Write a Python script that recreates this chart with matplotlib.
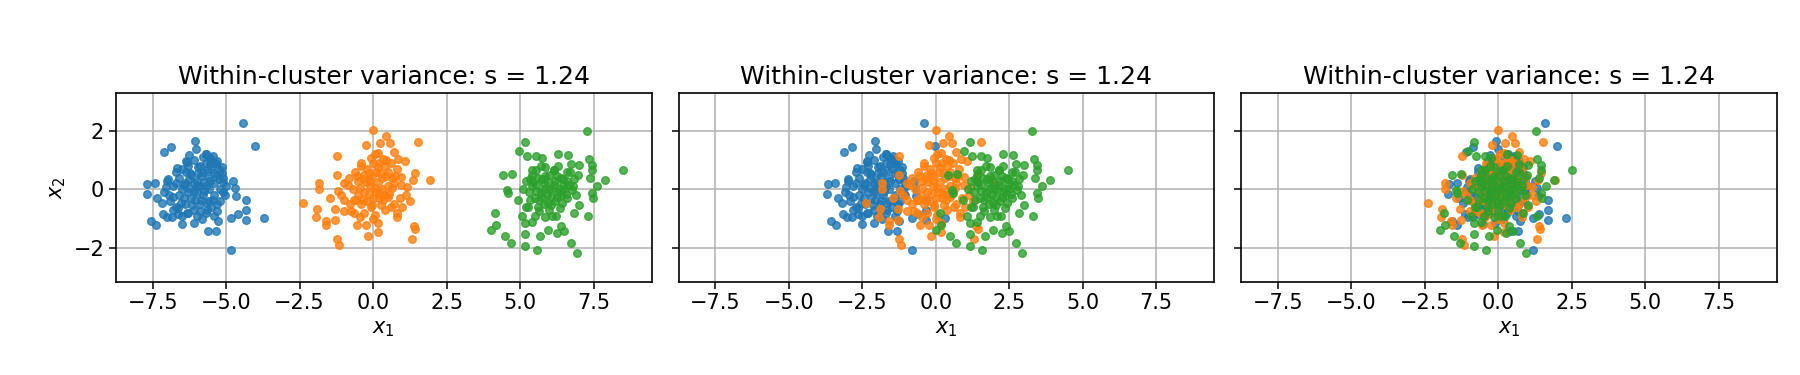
import matplotlib
matplotlib.use("Agg")
import matplotlib.pyplot as plt
import numpy as np

# point positions relative to each cluster's centre (same noise in every panel)
blue_dx = [1.59, 1.99, -0.07, -1.11, -0.86, -0.02, 0.32, -0.28, -0.68, -1.68,
           -1.41, -1.70, -0.97, -1.05, 1.25, 1.31, 1.34, 1.68, 1.68, 1.39,
           1.18, 1.68, 2.30, 0.68, 0.74, 0.39, 0.67, 1.18, -1.56, -1.39,
           -1.34, -1.19, -1.14, -1.02, -0.51, -0.11, 0.17, 0.91, 0.97, 0.80,
           0.63, 0.45, -0.34, -0.23, -0.80, -0.63, -0.34, 0.34,
           -0.6, -0.4, -0.2, 0.0, 0.2, 0.4, 0.6, 0.8, 0.6, 0.4,
           0.2, 0.0, -0.2, -0.4, -0.6, -0.8, -0.5, -0.3, 0.1, 0.3,
           0.5, 0.3, 0.1, -0.1, 0.2, 0.5, 0.7, 0.9, 1.0, 0.7,
           0.5, 0.1, -0.1, -0.3, -0.7, -0.9, -0.8, -0.5, 0.0, 0.3,
           0.6, -0.3, -0.5, -0.7, -1.0, -1.1, 0.4, -0.1, 0.15, -0.45,
           0.65, 0.85, -0.25, 0.05, 0.35,
           -0.7, -0.55, -0.35, -0.15, 0.05, 0.25, 0.45, 0.55, 0.75, 0.9,
           0.35, -0.05, -0.25, -0.45, 0.15, 0.3, 0.55, 0.7, 0.1, -0.65,
           -0.95, 0.8, 0.6, 0.25, -0.35, 0.0, 0.45, -0.1, 0.85, -0.85]
blue_dy = [2.28, 1.48, 1.65, 1.26, 1.43, 1.36, 1.20, 1.17, 0.72, 0.17,
           0.20, -0.17, 0.34, 0.09, 0.28, 0.03, -0.23, -0.36, -0.70, -0.84,
           -0.99, -1.05, -0.98, -0.73, -1.09, -1.43, -1.43, -2.08, -1.08, -1.22,
           -0.31, -0.48, -0.85, -0.93, -1.19, -1.14, -1.02, 0.26, -0.19, 0.66,
           0.91, 1.06, 0.94, 0.55, -0.25, -0.65, -0.82, -0.70,
           0.4, 0.2, 0.5, 0.3, 0.6, 0.4, 0.2, 0.0, -0.2, -0.4,
           -0.2, -0.1, -0.3, -0.5, -0.2, 0.1, 0.0, -0.1, 0.1, 0.1,
           0.7, 0.9, 0.8, 1.0, 1.1, 1.0, 0.5, 0.4, 0.1, -0.5,
           -0.6, -0.5, -0.7, -0.8, -0.6, -0.4, -0.7, -0.9, -0.9, -0.8,
           -0.9, 0.8, 0.7, 0.6, 0.3, -0.1, 0.0, 0.2, -0.35, -0.3,
           0.85, 0.75, 0.35, 0.55, 0.65,
           0.2, -0.45, 0.6, -0.55, 0.75, 0.25, 0.85, -0.35, 0.35, -0.1,
           -0.45, -0.35, 0.05, 0.15, 0.45, 1.2, 1.15, 0.95, -0.75, -0.85,
           -0.2, -0.4, 0.55, -0.05, 0.95, 0.1, 0.3, -0.05, 0.55, -0.95]

orange_dx = [0.0, 0.45, 1.53, -0.23, 0.24, 0.56, -1.24, 0.70, 0.86, 1.08,
             0.18, -0.07, -0.41, 1.44, 1.36, 1.92, -1.24, -1.83, -1.83, -2.38,
             -1.45, -1.91, -1.94, -1.60, -1.59, -1.28, -1.24, -1.17, -1.30, -0.98,
             -0.55, -0.24, -0.16, 0.18, 0.18, 0.82, 0.82, 1.38, 1.43, 1.31,
             1.27, 1.13, 1.16, 0.95, -1.20, -0.98, -0.81, -0.98, -0.64, -0.58,
             0.50, 0.61, 0.27, -0.07, 0.05,
             -0.5, -0.3, -0.1, 0.1, 0.3, 0.5, 0.7, 0.5, 0.3, 0.1,
             -0.1, -0.3, -0.5, -0.7, -0.6, -0.4, 0.2, 0.4, 0.6, 0.8,
             0.2, 0.4, 0.0, -0.2, -0.4, -0.8, -0.3, 0.0, -0.2, 0.9,
             0.7, 0.4, 0.15, -0.15, 0.65, -0.85, 0.35, 0.05,
             -0.45, -0.25, -0.05, 0.25, 0.45, 0.65, 0.35, -0.05, -0.35, -0.65,
             -0.55, 0.05, 0.25, -0.15, 0.55, 0.75, 0.15, -0.35, 0.45, -0.75,
             0.0, -0.45, 0.95, 1.0, -1.1]
orange_dy = [2.02, 1.82, 1.61, 1.51, 1.57, 1.57, 1.13, 1.28, 1.02, 0.98,
             1.23, 1.06, 0.91, 0.56, 0.32, 0.31, 0.49, 0.23, 0.0, -0.48,
             -0.31, -0.67, -0.94, -1.08, -1.23, -1.05, -1.69, -1.90, -0.68, -0.73,
             -1.22, -1.22, -1.61, -1.47, -1.16, -0.93, -0.82, -1.24, -1.36, -1.70,
             -0.40, -0.19, 0.08, 0.43, -0.05, 0.23, 0.38, -0.36, -0.82, -0.36,
             -0.25, -0.59, -0.53, -0.59, -0.88,
             0.3, 0.5, 0.3, 0.6, 0.4, 0.6, 0.2, 0.1, 0.0, -0.1,
             0.1, -0.1, -0.2, 0.0, 0.6, 0.8, 0.9, 0.8, 0.9, 0.7,
             -0.3, -0.2, -0.3, -0.4, -0.5, -0.5, -0.8, 0.9, 0.7, -0.3,
             -0.5, -0.7, 0.25, 0.55, 0.4, 0.15, 1.05, 1.2,
             0.05, 0.25, 0.45, 0.55, 0.45, 0.05, -0.35, -0.55, -0.35, -0.35,
             0.45, 0.05, -0.15, -0.15, -0.15, 0.45, 0.75, 0.35, 1.0, -0.75,
             -1.0, -0.95, 0.15, -0.6, -0.2]

green_dx = [1.27, 2.50, -0.83, -1.03, -0.77, -0.47, -0.26, 0.30, 0.64, 0.72,
            1.02, 1.33, 1.44, 1.44, 1.39, 1.90, 1.63, 1.44, 1.47, 0.97,
            -1.57, -1.26, -1.45, -1.42, -1.08, -1.86, -1.82, -1.99, -1.52, -1.31,
            -0.83, -0.83, -0.42, -0.32, -0.06, 0.27, 0.38, 0.49, 0.73, 0.94,
            0.84, 1.31, 1.01, 0.22, -0.15, -0.60, -0.83, -0.94, -0.72, 0.42,
            0.76, 0.14, -0.15, -0.60,
            -0.8, -0.6, -0.4, -0.2, 0.0, 0.2, 0.4, 0.6, 0.5, 0.3,
            0.1, -0.1, -0.3, -0.5, -0.7, -0.9, -0.4, -0.2, 0.0, 0.2,
            0.4, 0.6, 0.7, 0.3, -0.3, 0.1, -0.5, -0.6, 0.15, -0.15,
            0.45, -0.35, 0.8, 0.05, -0.55,
            -0.65, -0.45, -0.25, -0.05, 0.25, 0.45, 0.55, 0.25, -0.05, -0.25,
            -0.45, -0.65, -0.35, 0.05, 0.35, 0.65, 0.85, 0.15, -0.45, 0.9,
            -0.8, 0.0, 0.35, -0.2, 0.6]
green_dy = [1.99, 0.66, 1.60, 1.30, 1.14, 1.15, 1.06, 1.20, 1.17, 0.88,
            0.84, 1.02, 0.83, 0.66, 0.38, 0.32, 0.11, -0.14, -0.31, 0.49,
            0.49, 0.52, -0.02, -0.14, -0.36, -0.82, -1.22, -1.40, -1.58, -1.83,
            -1.52, -1.95, -2.07, -1.58, -1.40, -1.48, -1.24, -1.43, -1.84, -2.18,
            -0.81, -0.91, -0.53, -0.91, -0.93, -1.10, -1.16, -0.91, -0.59, -0.48,
            -0.02, 0.66, 0.77, 0.66,
            0.3, 0.1, 0.4, 0.2, 0.5, 0.3, 0.4, 0.3, 0.0, -0.1,
            0.0, -0.2, -0.1, -0.3, -0.1, 0.0, -0.6, -0.5, -0.7, -0.4,
            -0.2, -0.3, 0.6, 0.8, 0.8, -0.9, -0.9, 0.5, 0.15, 0.45,
            0.15, -0.35, 0.1, -0.25, 0.25,
            0.35, 0.15, 0.35, 0.25, 0.45, 0.35, -0.15, -0.25, -0.45, -0.25,
            -0.05, -0.35, -0.75, -0.55, -0.65, 0.15, 0.35, 0.65, 0.65, -0.2,
            -0.6, 0.0, 0.0, 0.0, 0.6]

# cluster centres on x_1 for each panel (blue, orange, green)
centres = [[-6, 0, 6],
           [-2, 0, 2],
           [0, 0, 0]]

titles = ["Within-cluster variance: s = 1.24"] * 3
colors = ["tab:blue", "tab:orange", "tab:green"]

clusters = [(blue_dx, blue_dy), (orange_dx, orange_dy), (green_dx, green_dy)]

fig, axes = plt.subplots(1, 3, figsize=(18, 3.75), dpi=100, sharex=True, sharey=True)
fig.subplots_adjust(left=0.0644, right=0.9872, bottom=0.249, top=0.753, wspace=0.05)

for ax, cen, title in zip(axes, centres, titles):
    for (dx, dy), c, col in zip(clusters, cen, colors):
        ax.scatter(np.asarray(dx) + c, dy, s=30, color=col, alpha=0.8)
    ax.set_title(title, fontsize=18)
    ax.set_xlabel("$x_1$", fontsize=15)
    ax.grid(True, linewidth=1.1)
    ax.set_axisbelow(True)
    ax.tick_params(labelsize=15, length=5, width=1.1)
    for sp in ax.spines.values():
        sp.set_linewidth(1.2)

axes[0].set_ylabel("$x_2$", fontsize=15)
axes[0].set_xlim(-8.75, 9.48)
axes[0].set_ylim(-3.15, 3.30)
axes[0].set_xticks([-7.5, -5.0, -2.5, 0.0, 2.5, 5.0, 7.5])
axes[0].set_yticks([-2, 0, 2])

fig.savefig("out.png", dpi=100)
